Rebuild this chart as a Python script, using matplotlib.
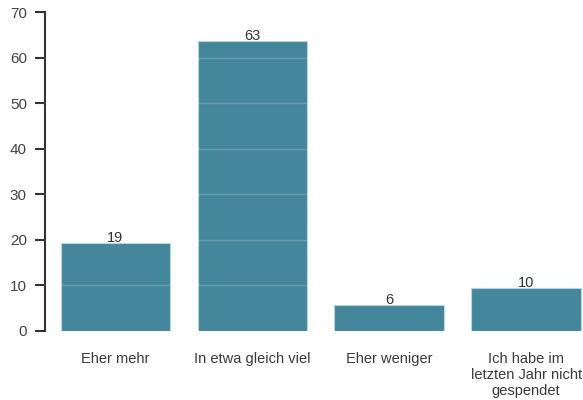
import matplotlib.pyplot as plt
import numpy as np

categories = ['Eher mehr', 'In etwa gleich viel', 'Eher weniger',
              'Ich habe im\nletzten Jahr nicht\ngespendet']
values = [19.2, 63.6, 5.6, 9.4]
value_labels = ['19', '63', '6', '10']
y_ticks = [0, 10, 20, 30, 40, 50, 60, 70]

plt.rcParams['font.family'] = ['Liberation Sans', 'DejaVu Sans']

fig = plt.figure(figsize=(5.83, 4.0), dpi=100)
ax = fig.add_axes([45 / 583, 1 - 330.7 / 400, 538 / 583, 318.7 / 400])

x = np.arange(len(categories))
bars = ax.bar(x, values, width=0.8, color='#44869b', edgecolor='#b5d6e0',
              linewidth=0.8, zorder=2)

# faint grid only shows on top of bars
for t in y_ticks[1:-1]:
    ax.axhline(t, color='white', alpha=0.2, linewidth=1, zorder=3)

for b, lab in zip(bars, value_labels):
    ax.text(b.get_x() + b.get_width() / 2, b.get_height() - 0.4, lab,
            ha='center', va='bottom', fontsize=10.5, color='#333333', zorder=4)

ax.set_xlim(-0.515, 3.416)
ax.set_ylim(0, 70)
ax.set_yticks(y_ticks)
ax.set_xticks(x)
ax.set_xticklabels(categories, fontsize=10.5, color='#3a3a3a', linespacing=1.2)
ax.tick_params(axis='x', length=0, pad=15)
ax.tick_params(axis='y', length=7, width=1.5, color='#333333', labelsize=11,
               labelcolor='#444444', pad=6)

for s in ['top', 'right', 'bottom']:
    ax.spines[s].set_visible(False)
ax.spines['left'].set_linewidth(1.5)
ax.spines['left'].set_color('#333333')

fig.savefig('out.png', dpi=100)
